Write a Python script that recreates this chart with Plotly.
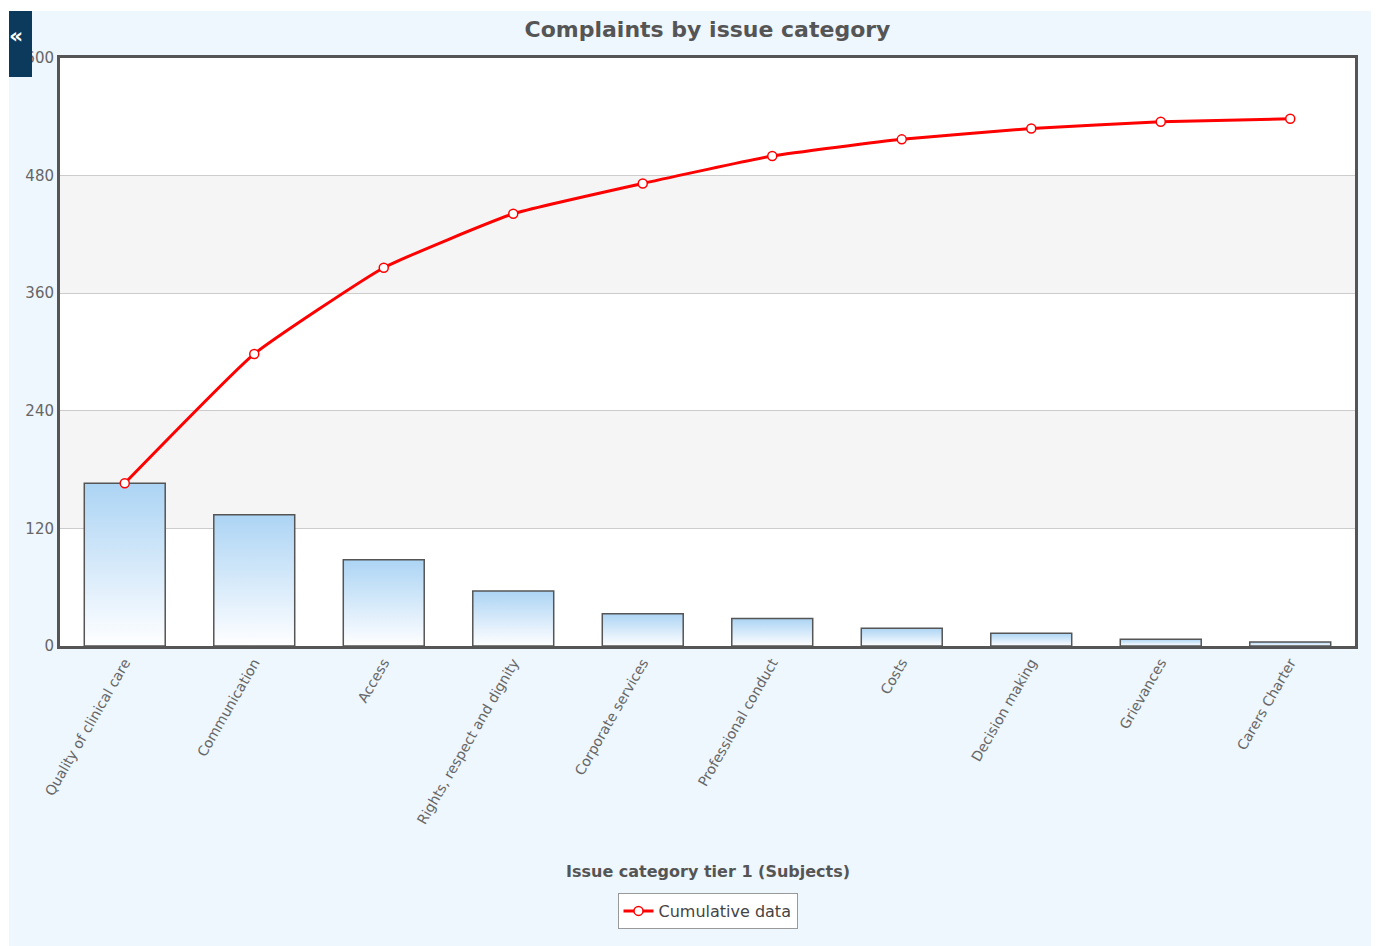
import plotly.graph_objects as go

# Complaint counts per issue category (tier 1) and the running total
categories = [
    "Quality of clinical care",
    "Communication",
    "Access",
    "Rights, respect and dignity",
    "Corporate services",
    "Professional conduct",
    "Costs",
    "Decision making",
    "Grievances",
    "Carers Charter",
]
complaints = [166, 134, 88, 56, 33, 28, 18, 13, 7, 4]
cumulative = [166, 298, 386, 441, 472, 500, 517, 528, 535, 538]
y_ticks = [0, 120, 240, 360, 480, 600]

FONT = "Verdana, DejaVu Sans, sans-serif"
W, H = 1376, 946
L, R, T, B = 60, 21, 58, 300
PW, PH = W - L - R, H - T - B


def px_x(px):
    """Pixel x in the page -> paper x."""
    return (px - L) / PW


def px_y(py):
    """Pixel y in the page -> paper y."""
    return (H - B - py) / PH


fig = go.Figure()

# Columns drawn as filled outlines so each gets a vertical blue-to-white gradient
half = 0.3125
for i, (cat, v) in enumerate(zip(categories, complaints)):
    fig.add_trace(go.Scatter(
        x=[i - half, i - half, i + half, i + half, i - half],
        y=[0, v, v, 0, 0],
        mode="lines",
        fill="toself",
        fillgradient=dict(type="vertical",
                          colorscale=[[0, "#ffffff"], [0.15, "#f2f8fe"], [1, "#acd4f4"]],
                          start=0, stop=v),
        line=dict(color="#555555", width=1.5),
        name=cat,
        showlegend=False,
        hoverinfo="skip",
    ))

# Cumulative line
fig.add_trace(go.Scatter(
    x=list(range(len(categories))),
    y=cumulative,
    mode="lines+markers",
    name="Cumulative data",
    line=dict(color="#ff0000", width=3, shape="spline", smoothing=0.4),
    marker=dict(symbol="circle", size=9, color="#ffffff",
                line=dict(color="#ff0000", width=1.5)),
))

shapes = [
    # light blue panel behind everything
    dict(type="rect", xref="paper", yref="paper", layer="below",
         x0=px_x(9), x1=px_x(1371), y0=px_y(946), y1=px_y(11),
         fillcolor="#eef6fe", line=dict(width=0)),
    # white plot area
    dict(type="rect", xref="paper", yref="paper", layer="below",
         x0=0, x1=1, y0=0, y1=1, fillcolor="#ffffff", line=dict(width=0)),
    # collapse button in the corner
    dict(type="rect", xref="paper", yref="paper", layer="above",
         x0=px_x(9), x1=px_x(32), y0=px_y(77), y1=px_y(11),
         fillcolor="#0b3a5c", line=dict(width=0)),
]
# alternate grey bands
for lo, hi in [(120, 240), (360, 480)]:
    shapes.append(dict(type="rect", xref="paper", yref="y", layer="below",
                       x0=0, x1=1, y0=lo, y1=hi,
                       fillcolor="#f5f5f5", line=dict(width=0)))

annotations = [
    dict(text="<b>«</b>", xref="paper", yref="paper",
         x=px_x(16), y=px_y(35), xanchor="center", yanchor="middle",
         showarrow=False, font=dict(family=FONT, size=22, color="#ffffff")),
    dict(text="<b>Issue category tier 1 (Subjects)</b>", xref="paper", yref="paper",
         x=0.5, y=px_y(871), xanchor="center", yanchor="middle",
         showarrow=False, font=dict(family=FONT, size=16, color="#555555")),
]

fig.update_layout(
    width=W, height=H, autosize=False,
    margin=dict(l=L, r=R, t=T, b=B),
    paper_bgcolor="#ffffff",
    plot_bgcolor="#ffffff",
    font=dict(family=FONT, color="#666666"),
    title=dict(text="<b>Complaints by issue category</b>",
               x=0.5, xref="paper", xanchor="center",
               y=1 - 29 / H, yref="container", yanchor="middle",
               font=dict(family=FONT, size=22, color="#555555")),
    shapes=shapes,
    annotations=annotations,
    showlegend=True,
    legend=dict(x=0.5, xanchor="center", y=px_y(893), yanchor="top",
                orientation="h", bgcolor="#ffffff", bordercolor="#999999",
                borderwidth=1, itemwidth=30, valign="middle",
                font=dict(family=FONT, size=16, color="#444444")),
    hovermode="closest",
)

fig.update_xaxes(
    range=[-0.5, len(categories) - 0.5],
    tickmode="array", tickvals=list(range(len(categories))), ticktext=categories,
    tickangle=-60, tickfont=dict(family=FONT, size=14, color="#666666"),
    showgrid=False, zeroline=False, ticks="",
    showline=True, mirror=True, linecolor="#555555", linewidth=3,
)
fig.update_yaxes(
    range=[0, 600],
    tickmode="array", tickvals=y_ticks,
    tickfont=dict(family=FONT, size=15, color="#666666"),
    showgrid=True, gridcolor="#cccccc", gridwidth=1, zeroline=False, ticks="",
    showline=True, mirror=True, linecolor="#555555", linewidth=3,
)

fig.write_html("out.html")
